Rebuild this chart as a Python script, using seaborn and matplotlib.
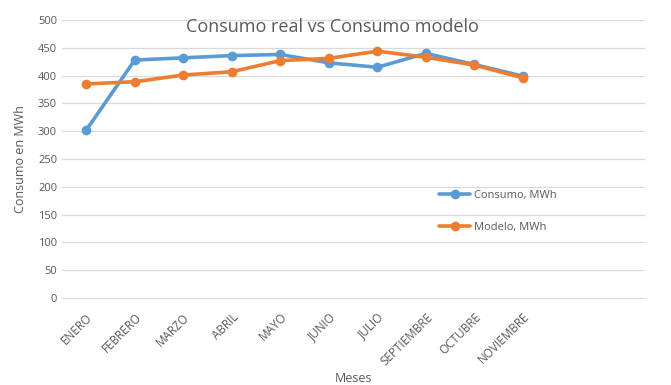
import pandas as pd
import seaborn as sns
import matplotlib.pyplot as plt

meses = ['ENERO', 'FEBRERO', 'MARZO', 'ABRIL', 'MAYO', 'JUNIO', 'JULIO',
         'SEPTIEMBRE', 'OCTUBRE', 'NOVIEMBRE']
consumo = [302, 428, 432, 436, 438, 423, 415, 440, 420, 399]
modelo = [385, 389, 401, 407, 427, 431, 444, 433, 419, 396]

df = pd.DataFrame({'Mes': meses, 'Consumo, MWh': consumo, 'Modelo, MWh': modelo})
df = df.melt(id_vars='Mes', var_name='Serie', value_name='MWh')

sns.set_theme(style='white')
plt.rcParams['font.family'] = ['Open Sans', 'DejaVu Sans']
gris = '#595959'

fig = plt.figure(figsize=(6.71, 3.85), dpi=100)
ax = fig.add_axes([0.0924, 0.226, 0.8676, 0.722])

sns.lineplot(data=df, x='Mes', y='MWh', hue='Serie', sort=False,
             palette=['#5B9BD5', '#ED7D31'], marker='o', markersize=7,
             markeredgewidth=0, linewidth=2.6, ax=ax)

ax.set_xlim(-0.5, 11.5)
ax.set_ylim(0, 500)
ax.set_yticks(range(0, 501, 50))
ax.yaxis.grid(True, color='#D9D9D9', linewidth=0.9, clip_on=False)
ax.set_axisbelow(True)
for s in ax.spines.values():
    s.set_visible(False)
ax.tick_params(axis='both', length=0, colors=gris, labelsize=8)
ax.tick_params(axis='x', labelsize=8.5, pad=9)
plt.setp(ax.get_xticklabels(), rotation=45, ha='right', rotation_mode='anchor')

ax.set_xlabel('Meses', color=gris, fontsize=9)
ax.set_ylabel('Consumo en MWh', color=gris, fontsize=9)
ax.xaxis.set_label_coords(0.5, -0.265)
ax.yaxis.set_label_coords(-0.06, 0.5)

fig.text(0.495, 0.93, 'Consumo real vs Consumo modelo', ha='center', va='center',
         color=gris, fontsize=13)

ax.legend(loc='center left', bbox_to_anchor=(0.648, 0.31), frameon=False,
          fontsize=8, labelspacing=1.9, handlelength=2.8, handletextpad=0.3,
          borderaxespad=0, borderpad=0, labelcolor=gris)

fig.savefig('out.png', dpi=100)
